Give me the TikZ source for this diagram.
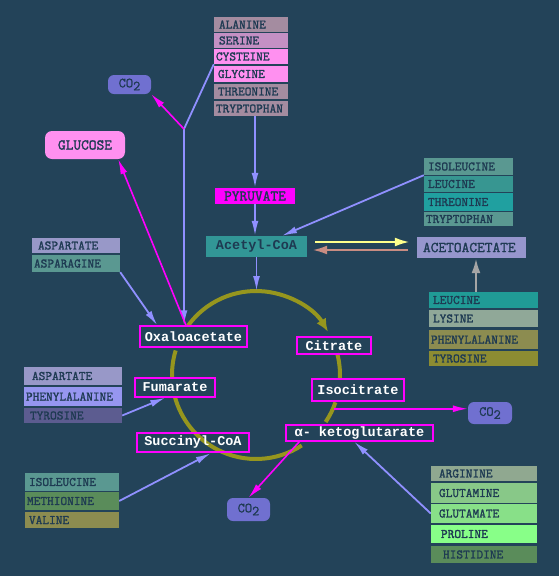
\documentclass[tikz,border=0pt]{standalone}
\usepackage{fontspec}
\setmainfont{Liberation Serif}
\newfontfamily\cyfont{Liberation Mono}
\newfontfamily\aamono[FakeBold=1.6]{Latin Modern Mono}
\newfontfamily\comono[FakeBold=0.8]{Latin Modern Mono}
\usetikzlibrary{arrows.meta,calc}
\pgfdeclarelayer{back}
\pgfsetlayers{back,main}
\definecolor{bgc}{RGB}{35,67,89}
\definecolor{aatext}{RGB}{30,58,82}
\definecolor{mauve}{RGB}{164,140,160}
\definecolor{serinec}{RGB}{196,144,196}
\definecolor{pinkb}{RGB}{255,144,240}
\definecolor{tealA}{RGB}{90,152,145}
\definecolor{tealB}{RGB}{55,150,145}
\definecolor{tealC}{RGB}{32,160,160}
\definecolor{tealD}{RGB}{32,155,150}
\definecolor{acetc}{RGB}{50,150,150}
\definecolor{lavA}{RGB}{150,150,205}
\definecolor{lavB}{RGB}{152,152,200}
\definecolor{lavC}{RGB}{150,150,240}
\definecolor{purpc}{RGB}{92,92,144}
\definecolor{grayg}{RGB}{144,168,152}
\definecolor{graygB}{RGB}{144,168,144}
\definecolor{oliveA}{RGB}{140,140,80}
\definecolor{oliveB}{RGB}{140,140,50}
\definecolor{greenA}{RGB}{90,140,90}
\definecolor{greenB}{RGB}{136,200,136}
\definecolor{greenC}{RGB}{136,224,136}
\definecolor{greenD}{RGB}{136,255,136}
\definecolor{co2c}{RGB}{112,112,208}
\definecolor{mag}{RGB}{255,0,255}
\definecolor{lavline}{RGB}{144,144,255}
\definecolor{yel}{RGB}{255,255,140}
\definecolor{brn}{RGB}{200,140,130}
\definecolor{gryline}{RGB}{165,165,165}
\definecolor{arcc}{RGB}{150,150,30}
\tikzset{
  aabox/.style={rectangle, inner xsep=2pt, inner ysep=0pt, align=left,
    font={\aamono\fontsize{13pt}{14pt}\selectfont}, text=aatext},
  bigaa/.style={font={\aamono\fontsize{15pt}{16pt}\selectfont}, text=aatext},
  cybox/.style={rectangle, draw=mag, line width=1.5pt, inner sep=0pt,
    font={\cyfont\bfseries\fontsize{13.5pt}{14pt}\selectfont}, text=white},
  co2box/.style={rectangle, rounded corners=6pt, fill=co2c, inner sep=0pt,
    font={\comono\fontsize{14pt}{15pt}\selectfont}, text=aatext},
  lavl/.style={draw=lavline, line width=1.8pt},
  lavarr/.style={lavl, -{Latex[length=15pt,width=7pt]}},
  magarr/.style={draw=mag, line width=1.6pt, -{Latex[length=15pt,width=7pt]}},
  cyc/.style={draw=arcc, line width=4pt}
}
\newcommand\cotwo{CO\raisebox{-3pt}{2}}
\begin{document}
\begin{tikzpicture}[x=1pt,y=-1pt]
\useasboundingbox (0,0) rectangle (559,576);
% top column
\node[aabox, fill=mauve, text width=70pt, minimum height=15pt] (ala) at (251,24.5) {\hspace*{3pt}ALANINE};
\node[aabox, fill=serinec, text width=70pt, minimum height=15pt] (ser) at (251,40.5) {\hspace*{3pt}SERINE};
\node[aabox, fill=pinkb, text width=70pt, minimum height=15pt] (cys) at (251,56.5) {CYSTEINE};
\node[aabox, fill=pinkb, text width=70pt, minimum height=16pt] (gly) at (251,74) {\hspace*{2pt}GLYCINE};
\node[aabox, fill=mauve, text width=70pt, minimum height=15pt] (thr1) at (251,91.5) {\hspace*{2pt}THREONINE};
\node[aabox, fill=mauve, text width=70pt, minimum height=15pt] (trp1) at (251,108.5) {TRYPTOPHAN};
% right top column
\node[aabox, fill=tealA, text width=85pt, minimum height=17pt] (ile1) at (468.5,166.5) {\hspace*{2pt}ISOLEUCINE};
\node[aabox, fill=tealB, text width=85pt, minimum height=16pt] (leu1) at (468.5,184) {\hspace*{2pt}LEUCINE};
\node[aabox, fill=tealC, text width=85pt, minimum height=18pt] (thr2) at (468.5,202) {\hspace*{2pt}THREONINE};
\node[aabox, fill=tealA, text width=85pt, minimum height=14pt] (trp2) at (468.5,219) {TRYPTOPHAN};
\node[aabox, bigaa, fill=lavA, text width=105pt, minimum height=21pt] (aceto) at (471.5,247.5) {\hspace*{4pt}ACETOACETATE};
% lower right column
\node[aabox, fill=tealD, text width=105pt, minimum height=16pt] (leu2) at (483.5,300) {\hspace*{2pt}LEUCINE};
\node[aabox, fill=grayg, text width=105pt, minimum height=17pt] (lys) at (483.5,318.5) {\hspace*{2pt}LYSINE};
\node[aabox, fill=oliveA, text width=105pt, minimum height=19pt] (phe1) at (483.5,339.5) {PHENYLALANINE};
\node[aabox, fill=oliveB, text width=105pt, minimum height=15pt] (tyr1) at (483.5,358.5) {\hspace*{2pt}TYROSINE};
% top left
\node[aabox, fill=lavB, text width=84pt, minimum height=15pt] (asp1) at (76,245.5) {\hspace*{4pt}ASPARTATE};
\node[aabox, fill=tealA, text width=84pt, minimum height=17pt] (asn) at (76,263.5) {ASPARAGINE};
% lower left
\node[aabox, fill=lavB, text width=94pt, minimum height=18pt] (asp2) at (73,376) {\hspace*{6pt}ASPARTATE};
\node[aabox, fill=lavC, text width=94pt, minimum height=19pt] (phe2) at (73,396.5) {PHENYLALANINE};
\node[aabox, fill=purpc, text width=94pt, minimum height=15pt] (tyr2) at (73,415.5) {\hspace*{4pt}TYROSINE};
% bottom left
\node[aabox, fill=tealA, text width=90pt, minimum height=18pt] (ile2) at (72,482) {\hspace*{2pt}ISOLEUCINE};
\node[aabox, fill=greenA, text width=90pt, minimum height=18pt] (met) at (72,501) {METHIONINE};
\node[aabox, fill=oliveA, text width=90pt, minimum height=16pt] (val) at (72,520) {\hspace*{2pt}VALINE};
% bottom right
\node[aabox, fill=graygB, text width=102pt, minimum height=15pt] (arg) at (484,473.5) {\hspace*{6pt}ARGININE};
\node[aabox, fill=greenB, text width=102pt, minimum height=20pt] (gln) at (484,493) {\hspace*{6pt}GLUTAMINE};
\node[aabox, fill=greenC, text width=102pt, minimum height=19pt] (glu) at (484,513.5) {\hspace*{6pt}GLUTAMATE};
\node[aabox, fill=greenD, text width=102pt, minimum height=18pt] (pro) at (484,534) {\hspace*{8pt}PROLINE};
\node[aabox, fill=greenA, text width=102pt, minimum height=17pt] (his) at (484,554.5) {\hspace*{10pt}HISTIDINE};
% other boxes
\node[rectangle, bigaa, fill=mag, inner sep=0pt, minimum width=80pt, minimum height=16pt] (pyr) at (255,196) {PYRUVATE};
\node[rectangle, fill=acetc, inner sep=0pt, minimum width=101pt, minimum height=21pt,
  font={\cyfont\bfseries\fontsize{13.5pt}{14pt}\selectfont}, text=aatext] (acet) at (256.5,246.5) {Acetyl-CoA};
\node[co2box, minimum width=43pt, minimum height=19pt] (co2a) at (129.5,84.5) {\cotwo};
\node[co2box, minimum width=44pt, minimum height=22pt] (co2b) at (490,413) {\cotwo};
\node[co2box, minimum width=43pt, minimum height=23pt] (co2c) at (248.5,509.5) {\cotwo};
\node[rectangle, bigaa, rounded corners=7pt, fill=pinkb, inner sep=0pt, minimum width=80pt, minimum height=28pt] (gluc) at (85,145) {GLUCOSE};
% cycle intermediates
\node[cybox, minimum width=107pt, minimum height=21pt] (oxa) at (193.5,336.5) {Oxaloacetate};
\node[cybox, minimum width=74pt, minimum height=17pt] (cit) at (334,345.5) {Citrate};
\node[cybox, minimum width=80pt, minimum height=19pt] (fum) at (175,387.5) {Fumarate};
\node[cybox, minimum width=92pt, minimum height=22pt] (iso) at (358,390) {Isocitrate};
\node[cybox, line width=2.5pt, minimum width=112pt, minimum height=19pt] (succ) at (193,442.5) {Succinyl-CoA};
\node[cybox, minimum width=147pt, minimum height=16pt] (akg) at (359.5,433) {α- ketoglutarate};
\begin{pgfonlayer}{back}
\fill[bgc] (0,0) rectangle (559,576);
\coordinate (C) at (256,375);
\coordinate (J) at (184,129);
\coordinate (ctop) at (255,291);
% cycle arcs
\draw[cyc, -{Latex[length=13pt,width=11pt]}] ($(C)+(-144:84)$) arc[start angle=-144, end angle=-31, radius=84];
\draw[cyc] ($(C)+(-15:84)$) arc[start angle=-15, end angle=3, radius=84];
\draw[cyc] ($(C)+(19:84)$) arc[start angle=19, end angle=34, radius=84];
\draw[cyc] ($(C)+(57:84)$) arc[start angle=57, end angle=165, radius=84];
\draw[cyc] ($(C)+(178:84)$) arc[start angle=178, end angle=197, radius=84];
% connectors
\draw[lavl] (cys.south west) -- (J);
\draw[lavarr] (J) -- (J |- oxa.north);
\draw[magarr] (J) -- (co2a.south east);
\draw[magarr] ($(oxa.north)+(-7.5,0)$) -- ($(gluc.south east)+(-7,0)$);
\draw[lavarr] (pyr.north |- trp1.south) -- (pyr.north);
\draw[lavarr] (pyr.south) -- (pyr.south |- acet.north);
\draw[lavarr] (acet.south) -- (acet.south |- ctop);
\draw[lavarr] (ile1.south west) -- ($(acet.north)+(25.5,0)$);
\coordinate (ya) at ($(acet.east)+(8,-4.5)$);
\draw[draw=yel, line width=2.5pt, -{Latex[length=15pt,width=9pt]}] (ya) -- ($(aceto.west |- ya)+(-7,0)$);
\coordinate (ba) at ($(aceto.west)+(-9,2.5)$);
\draw[draw=brn, line width=2.5pt, -{Latex[length=15pt,width=9pt]}] (ba) -- ($(acet.east |- ba)+(5,0)$);
\coordinate (ga) at ($(aceto.south)+(4.5,0)$);
\draw[draw=gryline, line width=2.5pt, -{Latex[length=15pt,width=9pt]}] (ga |- leu2.north) -- (ga);
\draw[lavarr] (asn.south east) -- ($(oxa.north west)+(18,0)$);
\draw[lavarr] (tyr2.east) -- ($(fum.south west)+(31,0)$);
\draw[lavarr] (met.east) -- ($(succ.south west)+(75,0)$);
\draw[lavarr] (glu.west) -- ($(akg.south west)+(69,0)$);
\coordinate (ia) at ($(iso.south west)+(23,7)$);
\draw[magarr] (ia) -- (co2b.west |- ia);
\draw[magarr] ($(akg.south west)+(14,0)$) -- (co2c.north);
\end{pgfonlayer}
\end{tikzpicture}
\end{document}
